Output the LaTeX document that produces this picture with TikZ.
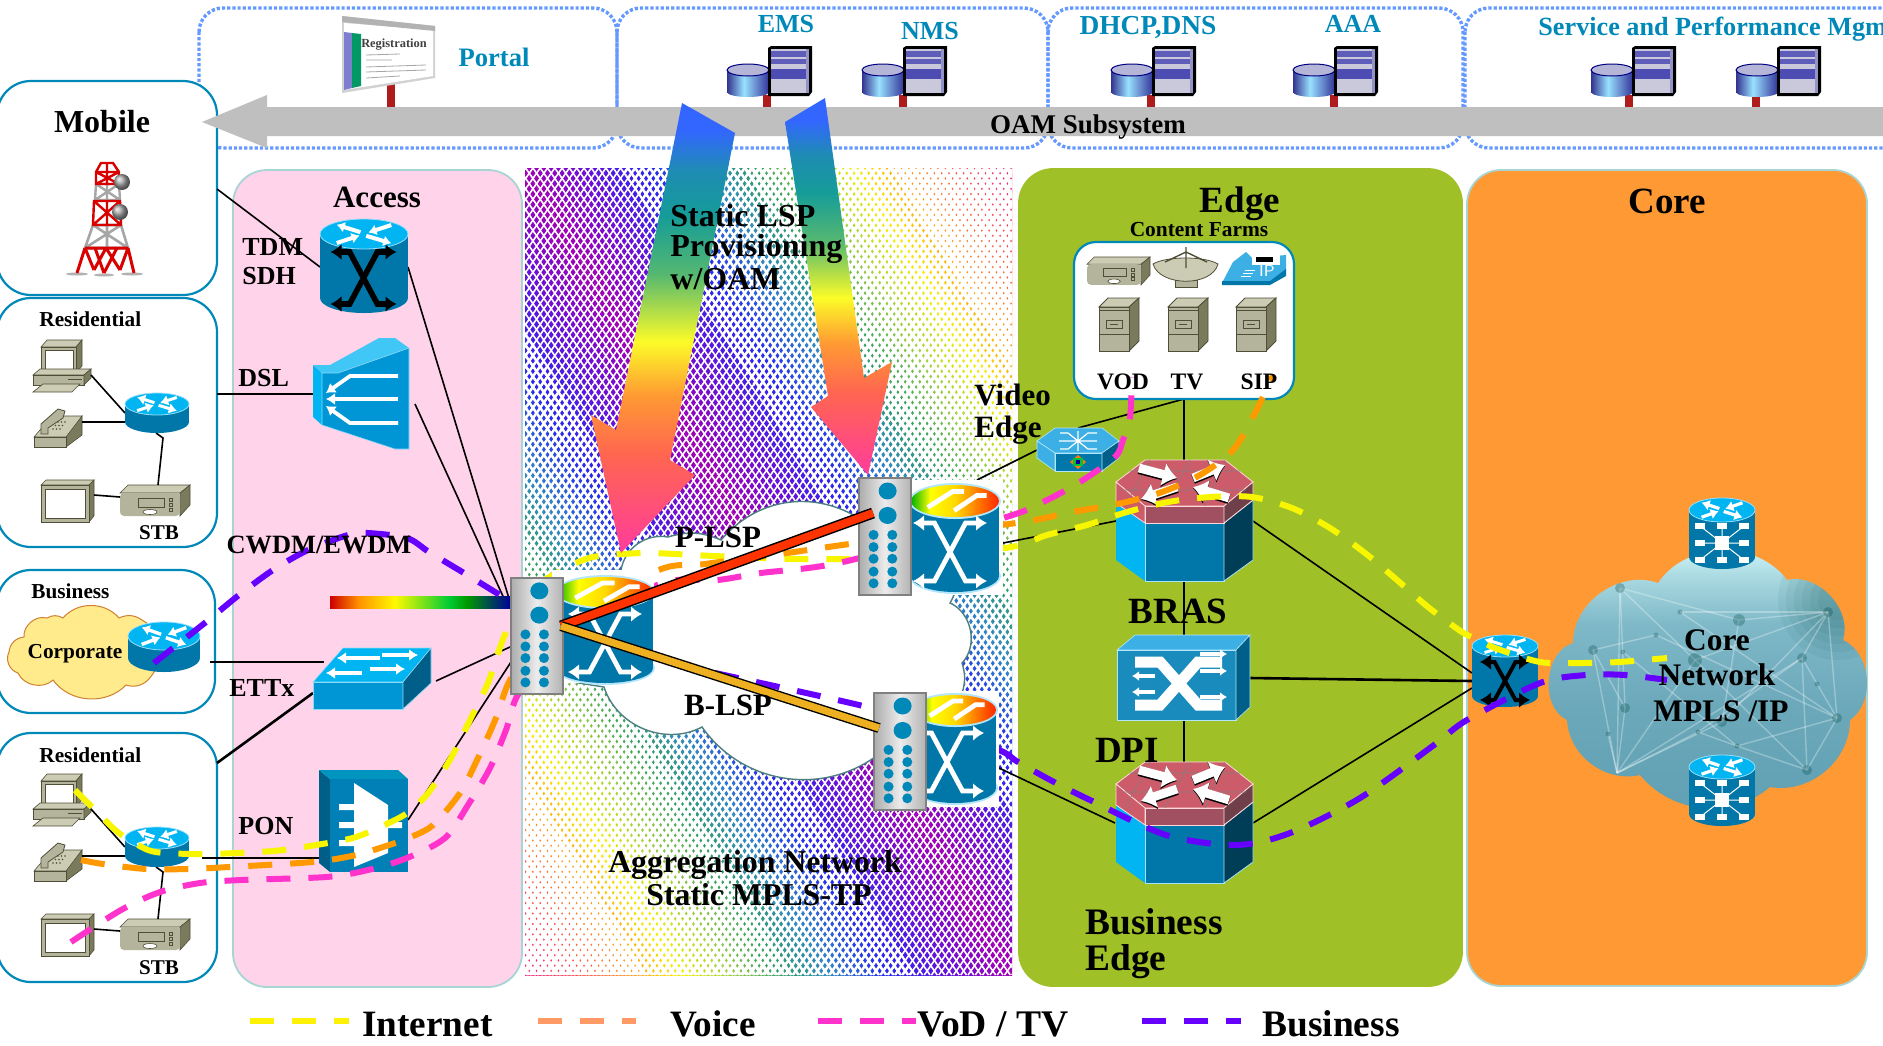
\documentclass[tikz,border=0pt]{standalone}
\usepackage{fontspec}
\setmainfont{Liberation Serif}
\usetikzlibrary{arrows.meta,calc}
\definecolor{cline}{HTML}{0088B8}
\definecolor{ctop}{HTML}{00B5F2}
\definecolor{cbody}{HTML}{0077A8}
\definecolor{cside}{HTML}{005F88}
\definecolor{cfront}{HTML}{0096D6}
\definecolor{clt}{HTML}{3CB0E5}
\definecolor{caccess}{HTML}{FFD3E9}
\definecolor{cedge}{HTML}{A0C028}
\definecolor{ccore}{HTML}{FF9933}
\definecolor{cpanel}{HTML}{A8D4D4}
\definecolor{cdot}{HTML}{6699FF}
\definecolor{cgrey}{HTML}{BFBFBF}
\definecolor{cpost}{HTML}{B01C1C}
\definecolor{kyel}{HTML}{F8F500}
\definecolor{kora}{HTML}{FF9900}
\definecolor{kmag}{HTML}{FF33CC}
\definecolor{kpur}{HTML}{6600FF}
\definecolor{kvoice}{HTML}{FF9966}
\definecolor{lspred}{HTML}{FF3300}
\definecolor{lspyel}{HTML}{EEB020}
\definecolor{btop}{HTML}{CCCCB4}
\definecolor{bfront}{HTML}{B4B49C}
\definecolor{bside}{HTML}{7A7A5C}
\definecolor{bstroke}{HTML}{4F4F38}
\definecolor{fwtop}{HTML}{CC5C6A}
\definecolor{fwfront}{HTML}{A05060}
\definecolor{fwside}{HTML}{70404A}
\definecolor{s0}{HTML}{A400B4}
\definecolor{s1}{HTML}{6A10D8}
\definecolor{s2}{HTML}{2828F0}
\definecolor{s3}{HTML}{3088C8}
\definecolor{s4}{HTML}{30A060}
\definecolor{s5}{HTML}{A0D040}
\definecolor{s6}{HTML}{F8F000}
\definecolor{s7}{HTML}{FF9020}
\definecolor{s8}{HTML}{FF4848}
\definecolor{s9}{HTML}{F0208C}
\definecolor{a0}{HTML}{FF3C9C}
\definecolor{a1}{HTML}{FF6650}
\definecolor{a2}{HTML}{FF9A33}
\definecolor{a3}{HTML}{FCFC28}
\definecolor{a4}{HTML}{55B870}
\definecolor{a5}{HTML}{159C98}
\definecolor{a6}{HTML}{1E8CB4}
\definecolor{a7}{HTML}{3366FF}
\definecolor{g0}{HTML}{5FA0B2}
\definecolor{g1}{HTML}{6BA8BA}
\definecolor{g2}{HTML}{7FB9C8}
\definecolor{g3}{HTML}{A8D8E0}
\definecolor{g4}{HTML}{C4ECF0}
\pgfdeclareverticalshading{arrowgrad}{100bp}{color(0bp)=(a0); color(25bp)=(a0);
 color(36bp)=(a1); color(42.5bp)=(a2); color(48.5bp)=(a3); color(56bp)=(a4);
 color(62.5bp)=(a5); color(67.5bp)=(a6); color(72bp)=(a7); color(100bp)=(a7)}
\pgfdeclarehorizontalshading{rbar}{100bp}{color(0bp)=(red!80!black); color(25bp)=(red!80!black); color(33bp)=(orange!85!yellow); color(43bp)=(yellow!95!orange); color(58bp)=(green!60!teal); color(63bp)=(green!60!black); color(75bp)=(blue!60!black); color(100bp)=(blue!60!black)}
\pgfdeclarehorizontalshading{rtop}{100bp}{color(0bp)=(green!70!black); color(25bp)=(green!70!black); color(36bp)=(yellow); color(50bp)=(yellow!70!orange); color(62bp)=(orange); color(75bp)=(red!70!orange); color(100bp)=(red!70!orange)}
\pgfdeclarehorizontalshading{chassis}{100bp}{color(0bp)=(gray!65); color(25bp)=(gray!65); color(50bp)=(gray!15); color(75bp)=(gray!60); color(100bp)=(gray!60)}
\pgfdeclarehorizontalshading{cylg}{100bp}{color(0bp)=(blue!50!black); color(25bp)=(blue!45!black!80); color(45bp)=(blue!30!cyan!40!white); color(75bp)=(blue!50!black!80); color(100bp)=(blue!50!black)}
\pgfdeclareverticalshading{coreg}{100bp}{color(0bp)=(g0); color(25bp)=(g0); color(45bp)=(g1); color(60bp)=(g2); color(68bp)=(g3); color(72bp)=(g4); color(100bp)=(g4)}
\tikzset{
 lab/.style={inner sep=0pt,font=\bfseries\fontsize{#1}{#1}\selectfont},
 oam/.style={lab=#1,text=cline},
 zone/.style={rounded corners=17pt,draw=cpanel,line width=.9pt},
 site/.style={rounded corners=17pt,draw=cline,line width=1.1pt,fill=white},
 group/.style={rounded corners=12pt,draw=cdot,line width=1.7pt,dash pattern=on 1.6pt off 1pt},
 wire/.style={black,line width=.8pt},
 hwire/.style={black,line width=1.3pt},
 flow/.style={line width=3pt,dash pattern=on 12pt off 9pt},
 harrow/.style={white,line width=#1,-{Latex[length=4pt,width=5.5pt]}}
}
% ---- icons
\newcommand{\rbody}[6]{% cx cy rx ry h bodycolor
 \fill[#6] (#1-#3,#2) rectangle (#1+#3,#2+#5);
 \fill[#6] (#1,#2+#5) ellipse[x radius=#3,y radius=#4];
 \fill[ctop,draw=cyan!40,line width=.4pt] (#1,#2) ellipse[x radius=#3,y radius=#4];}
\newcommand{\rarrows}[5]{% cx cy rx ry lw
 \begin{scope}[shift={(#1,#2)},x=#3*.5pt,y=-#4*.5pt]
 \draw[harrow=#5] (.05,.12)--(.62,.62);
 \draw[harrow=#5] (-.08,-.12)--(-.62,-.62);
 \draw[harrow=#5] (.62,-.6)--(.1,-.1);
 \draw[harrow=#5] (-.62,.6)--(-.1,.1);
 \end{scope}}
\newcommand{\xsw}[6]{% cx cy hw hh colour lw
 \begin{scope}[shift={(#1,#2)}]
 \draw[#5,line width=#6,{Latex[length=5.5pt,width=8pt]}-{Latex[length=5.5pt,width=8pt]},line join=miter] (-#3,-#4)--(-.42*#3,-#4)--(.42*#3,#4)--(#3,#4);
 \draw[#5,line width=#6,{Latex[length=5.5pt,width=8pt]}-{Latex[length=5.5pt,width=8pt]},line join=miter] (-#3,#4)--(-.42*#3,#4)--(.42*#3,-#4)--(#3,-#4);
 \end{scope}}
\newcommand{\tprouter}[5]{% cx cy rx ry h
 \fill[cyan!30] (#1,#2+#5) ellipse[x radius=#3+2,y radius=#4+2];
 \fill[cbody] (#1-#3,#2) rectangle (#1+#3,#2+#5);
 \fill[cbody] (#1,#2+#5) ellipse[x radius=#3,y radius=#4];
 \fill[cyan!30] (#1,#2) ellipse[x radius=#3+2,y radius=#4+2];
 \shade[shading=rtop] (#1,#2) ellipse[x radius=#3,y radius=#4];
 \draw[white,line width=2.4pt] (#1-.62*#3,#2+.4*#4)--(#1-.05*#3,#2-.6*#4)--(#1+.2*#3,#2-.6*#4);
 \draw[white,line width=2.4pt] (#1-.02*#3,#2+.6*#4)--(#1+.5*#3,#2-.35*#4)--(#1+.72*#3,#2-.35*#4);}
\newcommand{\chbox}[4]{% x y w h
 \shade[shading=chassis] (#1,#2) rectangle (#1+#3,#2+#4);
 \draw[gray,line width=1pt] (#1,#2) rectangle (#1+#3,#2+#4);
 \foreach \fy in {.111,.32}{\fill[cline] (#1+.55*#3,#2+\fy*#4) ellipse[x radius=9,y radius=8.5];}
 \foreach \fy in {.486,.59,.69,.8,.9}{\fill[cline] (#1+.28*#3,#2+\fy*#4) circle[radius=5];\fill[cline] (#1+.64*#3,#2+\fy*#4) circle[radius=5];}}
\newcommand{\srvicon}[2]{% x of cylinder, post x
 \fill[cpost] (#2-4,95) rectangle (#2+4,108);
 \shade[shading=cylg] (#1,70) rectangle (#1+42,92);
 \shade[shading=cylg] (#1+21,92) ellipse[x radius=21,y radius=5];
 \fill[blue!30!gray!45!white,draw=blue!50!black,line width=.5pt] (#1+21,70) ellipse[x radius=21,y radius=6];
 \fill[black] (#1+41,48) -- (#1+44,46) -- (#1+85,46) -- (#1+85,92) -- (#1+82,96) -- (#1+41,96) -- cycle;
 \fill[blue!20!gray!35!white] (#1+44,49) rectangle (#1+79,93);
 \fill[blue!40!gray!90!white] (#1+44,51) rectangle (#1+79,57);
 \fill[blue!40!gray!90!white] (#1+44,59) rectangle (#1+79,64);
 \fill[blue!40!gray] (#1+44,69) rectangle (#1+79,79);
 \fill[blue!30!gray!65!white] (#1+79,49) rectangle (#1+82,93);}
\newcommand{\stbicon}[3]{% x y scale
 \begin{scope}[shift={(#1,#2)},scale=#3]
 \fill[btop,draw=bstroke,line width=.3pt] (0,8)--(8,0)--(70,0)--(60,8)--cycle;
 \fill[bside,draw=bstroke,line width=.3pt] (60,8)--(70,0)--(70,20)--(60,31)--cycle;
 \fill[bfront,rounded corners=2pt] (0,8)--(60,8)--(60,31)--(0,31)--cycle;
 \draw[bstroke,line width=.4pt,fill=bfront] (18,13) rectangle (44,22);
 \draw[bstroke,line width=.3pt,fill=white] (30,27) ellipse[x radius=7,y radius=2.5];
 \foreach \sy in {13,18,23}{\draw[bstroke,line width=.3pt,fill=bfront] (49,\sy) rectangle (52,\sy+3);}
 \end{scope}}
\newcommand{\fileicon}[2]{% x y
 \begin{scope}[shift={(#1,#2)}]
 \fill[btop,draw=bstroke,line width=.4pt] (0,9)--(9,0)--(40,0)--(30,9)--cycle;
 \fill[bside,draw=bstroke,line width=.4pt] (30,9)--(40,0)--(40,43)--(30,53)--cycle;
 \fill[bfront,draw=bstroke,line width=.4pt] (0,9) rectangle (30,53);
 \draw[bstroke,line width=.3pt] (0,12)--(30,12) (0,36)--(30,36);
 \draw[bstroke,line width=.4pt] (7,22) rectangle (23,30) (11,26)--(19,26);
 \end{scope}}
\newcommand{\edgedev}[1]{% y shift
 \begin{scope}[shift={(0,#1)}]
 \fill[ctop] (1116,503)--(1145,523)--(1145,581)--(1116,560)--cycle;
 \fill[cbody,draw=cyan!35,line width=.4pt] (1145,523) rectangle (1224,581);
 \fill[black!20!cside!80!black,draw=cyan!35,line width=.4pt] (1224,523)--(1253,500)--(1253,560)--(1224,581)--cycle;
 \fill[fwtop,draw=pink!60,line width=.4pt] (1116,482)--(1145,460)--(1225,460)--(1253,482)--(1224,506)--(1145,506)--cycle;
 \fill[fwtop,draw=pink!60,line width=.4pt] (1116,482)--(1145,506)--(1145,523)--(1116,503)--cycle;
 \fill[fwfront,draw=pink!60,line width=.4pt] (1145,506) rectangle (1224,523);
 \fill[fwside,draw=pink!60,line width=.4pt] (1224,506)--(1253,482)--(1253,500)--(1224,523)--cycle;
 \draw[gray!90!fwtop,line width=.3pt] (1130,471)--(1240,471) (1122,490)--(1246,490) (1150,460)--(1125,506) (1190,460)--(1165,506) (1225,460)--(1205,506);
 \begin{scope}[shift={(1185,483)}]
 \foreach \aa/\ab/\ba/\bb in {-46/-15/-8/-5,-8/4/-44/16,8/-5/40/-18,44/15/8/4}{
  \draw[black,line width=5pt,-{Latex[length=7pt,width=13pt]}] (\aa,\ab+1)--(\ba,\bb+1);
  \draw[white,line width=4.4pt,-{Latex[length=7pt,width=12pt]}] (\aa,\ab)--(\ba,\bb);}
 \end{scope}
 \end{scope}}
\newcommand{\resisite}[1]{% y shift: the four terminals of a home
 \begin{scope}[shift={(0,#1)}]
 \fill[btop,draw=bstroke,line width=.3pt] (41,347)--(47,340)--(82,340)--(76,347)--cycle;
 \fill[bside,draw=bstroke,line width=.3pt] (76,347)--(82,340)--(82,366)--(76,373)--cycle;
 \fill[bfront,draw=bstroke,line width=.4pt] (41,347) rectangle (76,373);
 \fill[white,draw=bstroke,line width=.3pt] (45,350) rectangle (73,369);
 \fill[btop,draw=bstroke,line width=.3pt] (33,375)--(40,369)--(91,369)--(84,375)--cycle;
 \fill[bfront,draw=bstroke,line width=.4pt] (33,375) rectangle (84,385);
 \fill[bside,draw=bstroke,line width=.3pt] (84,375)--(91,369)--(91,378)--(84,385)--cycle;
 \draw[bstroke,line width=.5pt] (68,379)--(82,379);
 \fill[btop,draw=bstroke,line width=.3pt] (33,392)--(43,384)--(80,384)--(72,392)--cycle;
 \fill[bside,draw=bstroke,line width=.3pt] (66,435)--(82,416)--(82,435)--(66,447)--cycle;
 \fill[btop,draw=bstroke,line width=.3pt] (34,437)--(52,416)--(82,416)--(66,437)--cycle;
 \fill[bfront,draw=bstroke,line width=.4pt] (34,437) rectangle (66,447);
 \fill[bfront,draw=bstroke,line width=.4pt] (41,434)--(41,424)--(58,409)--(65,411)--(63,418)--(48,428)--(48,434)--cycle;
 \foreach \kx in {0,1,2}{\foreach \ky in {0,1,2}{\fill[bstroke] (58+\kx*3.5-\ky*2.5,422+\ky*3.5) circle[radius=.8];}}
 \fill[btop,draw=bstroke,line width=.3pt] (41,485)--(46,480)--(94,480)--(89,485)--cycle;
 \fill[bside,draw=bstroke,line width=.3pt] (89,485)--(94,480)--(94,516)--(89,522)--cycle;
 \fill[bfront,draw=bstroke,line width=.4pt] (41,485) rectangle (89,522);
 \fill[white,draw=bstroke,line width=.3pt] (45,489) rectangle (85,518);
 \stbicon{120}{485}{1}
 \end{scope}}
\newcommand{\coreicon}[2]{% cx cy
 \begin{scope}[shift={(#1,#2)}]
 \draw[white,line width=.5pt] (-22,-17)--(22,17) (22,-17)--(-22,17) (0,-17)--(0,17) (-22,0)--(22,0);
 \foreach \ix/\iy in {-22/-17,0/-17,22/-17,-22/0,22/0,-22/17,0/17,22/17}{\fill[white] (\ix-5,\iy-3) rectangle (\ix+5,\iy+3);}
 \fill[white] (-7,-7) rectangle (7,7);
 \end{scope}}
\newcommand{\corepath}{(1658,583) to[bend left=55] (1787,580) to[bend left=60] (1843,640) to[bend left=60] (1850,720) to[bend left=50] (1770,787) to[bend left=45] (1640,775) to[bend left=50] (1567,720) to[bend left=70] (1573,643) to[bend left=55] cycle}
% halftone lattice: white lines over the rainbow, wider where the dots shrink
\newcommand{\lattice}[1]{%
 \foreach \k in {-90,...,145}{\draw[white,line width=#1] ({\k*7.3},168)--({\k*7.3+565},975);}
 \foreach \k in {70,...,220}{\draw[white,line width=#1] ({\k*7.3},168)--({\k*7.3-565},975);}}
\newcommand{\farfrom}[1]{% clip to |u-v|>#1 on the aggregation rectangle
 \clip ({525+487*#1},168)--(1012,168)--(1012,{168+807*(1-#1)})--cycle
       (525,{168+807*#1})--(525,975)--({525+487*(1-#1)},975)--cycle;}
\begin{document}
\begin{tikzpicture}[x=.5pt,y=-.5pt]
\useasboundingbox (0,0) rectangle (1883,1045);
\clip (0,0) rectangle (1883,1045);
\fill[white] (0,0) rectangle (1883,1045);
% ---------- zones
\draw[zone,fill=caccess] (233,170) rectangle (522,987);
\draw[zone,fill=cedge,draw=cedge] (1019,169) rectangle (1462,986);
\draw[zone,fill=ccore] (1467,170) rectangle (1867,986);
% ---------- halftone background of the aggregation network
\begin{scope}
\clip (525,168) rectangle (1012,975);
\foreach \ca/\cb/\ta/\tb in {s0/s1/0/.12,s1/s2/.12/.25,s2/s3/.25/.37,s3/s4/.37/.48,s4/s5/.48/.58,s5/s6/.58/.68,s6/s7/.68/.79,s7/s8/.79/.89,s8/s9/.89/1.01}{
 \foreach \k in {0,...,5}{
  \pgfmathsetmacro\tone{\ta+(\tb-\ta)*\k/6}
  \pgfmathsetmacro\ttwo{\ta+(\tb-\ta)*(\k+1)/6+.003}
  \pgfmathsetmacro\pc{100-\k*16.6-8}
  \colorlet{bandc}{\ca!\pc!\cb}
  \fill[bandc] ({525+487*(\tone-.1)},{168-.1*807}) -- ({525+487*(\ttwo-.1)},{168-.1*807}) -- ({525+487*(\ttwo+1.1)},{168+1.1*807}) -- ({525+487*(\tone+1.1)},{168+1.1*807}) -- cycle;
  \fill[bandc] ({525+487*(-\tone-.1)},{168-.1*807}) -- ({525+487*(-\ttwo-.1)},{168-.1*807}) -- ({525+487*(-\ttwo+1.1)},{168+1.1*807}) -- ({525+487*(-\tone+1.1)},{168+1.1*807}) -- cycle;
 }}
\lattice{.8pt}
\begin{scope}\farfrom{.2}\lattice{1.25pt}\end{scope}
\begin{scope}\farfrom{.45}\lattice{1.7pt}\end{scope}
\begin{scope}\farfrom{.75}\lattice{2.1pt}\end{scope}
\end{scope}
% ---------- aggregation cloud
\coordinate (ac1) at (621,570);
\fill[white,draw=gray!60!teal,line width=.7pt] (ac1) to[bend left=45] (668,537) to[bend left=20] (721,540) to[bend left=40] (857,517) to[bend left=10] (955,590) to[bend left=10] (950,603) to[bend left=55] (962,663) to[bend left=15] (963,690) to[bend left=20] (875,757) to[bend left=45] (702,727) to[bend left=50] (604,687) -- (560,680) -- (560,575) -- cycle;
% ---------- OAM groups
\draw[group] (199,8) rectangle (617,148);
\draw[group] (617,8) rectangle (1048,148);
\draw[group] (1048,8) rectangle (1463,148);
\draw[group] (1465,8) rectangle (1930,148);
% ---------- user sites
\draw[site] (-3,81) rectangle (217,295);
\draw[site] (-3,298) rectangle (217,547);
\draw[site] (-3,570) rectangle (215,713);
\draw[site] (-3,733) rectangle (217,982);
% ---------- posts + OAM bus
\srvicon{727}{767}
\srvicon{862}{903}
\srvicon{1111}{1151}
\srvicon{1293}{1334}
\srvicon{1591}{1629}
\srvicon{1736}{1756}
\fill[cpost] (387,84) rectangle (395,107);
\fill[cgrey] (202,122)--(267,95)--(267,107)--(1883,107)--(1883,136)--(267,136)--(267,148)--cycle;
% portal sign
\fill[gray!35] (342,16)--(435,26)--(435,78)--(342,93)--cycle;
\fill[white] (344,23)--(433,30)--(433,76)--(344,90)--cycle;
\fill[blue!45!gray!70!white] (344,32)--(352,33)--(352,88)--(344,90)--cycle;
\fill[teal!80!green] (352,33)--(361,34)--(361,86)--(352,88)--cycle;
\fill[gray!60] (342,16)--(435,26)--(435,31)--(342,22)--cycle;
\node[lab=6.2,text=black!75] (reg) at (394,45) {Registration};
\draw[gray!70,line width=.4pt] (366,55)--(400,54) (366,60)--(392,60) (366,67)--(426,65) (366,72)--(426,70) (366,78)--(400,76);
% tower
\begin{scope}
\fill[gray!60] (77,274) ellipse[x radius=11,y radius=1.5] (104,275) ellipse[x radius=10,y radius=1.5] (132,274) ellipse[x radius=11,y radius=1.5];
\draw[gray!70,line width=1.2pt] (96,184)--(95,200)--(120,200)--(119,184)--cycle (96,184)--(120,200) (119,184)--(95,200) (107,184)--(107,200);
\draw[gray!70,line width=1.3pt] (93,225)--(85,248)--(128,248)--(121,225)--cycle (93,225)--(128,248) (121,225)--(85,248) (107,225)--(107,248);
\draw[red!85!black,line width=1.2pt] (96,172)--(101,163)--(113,163)--(119,172)--(119,184)--(96,184)--cycle (96,172)--(119,184) (119,172)--(96,184) (107,163)--(107,184) (96,172)--(119,172);
\draw[red!85!black,line width=1.2pt] (94,201)--(120,201)--(121,225)--(93,225)--cycle (94,201)--(121,225) (120,201)--(93,225) (107,201)--(107,225);
\draw[red!85!black,line width=1.5pt] (85,248)--(77,273) (128,248)--(134,273) (85,248)--(128,248) (85,248)--(94,270) (95,248)--(104,273) (117,248)--(104,273) (128,248)--(120,270) (106,248)--(94,270) (106,248)--(120,270);
\shade[ball color=gray!70] (122,182) circle[radius=8];
\shade[ball color=gray!70] (120,212) circle[radius=8];
\end{scope}
% ---------- residential terminals
\resisite{0}
\resisite{434}
% corporate cloud
\fill[orange!35!yellow!45!white,draw=brown!75!orange,line width=.5pt] (47,618) to[bend left=30] (63,618) to[bend left=50] (119,618) to[bend left=30] (142,620) to[bend left=30] (160,650) to[bend left=20] (148,680) to[bend left=30] (126,685) to[bend left=50] (53,680) to[bend left=55] (18,673) to[bend left=50] (9,652) to[bend left=40] (24,637) to[bend left=55] cycle;
% ---------- named connection points
\coordinate (mobileP) at (217,189); \coordinate (tdmL) at (320,267); \coordinate (tdmR) at (408,267);
\coordinate (chA) at (511,605); \coordinate (chB) at (507,605); \coordinate (dslR) at (415,404);
\coordinate (res1P) at (217,394); \coordinate (dslL) at (313,394);
\coordinate (bizP) at (210,662); \coordinate (ettUp) at (324,662);
\coordinate (res2P) at (217,763); \coordinate (ettL) at (313,693);
\coordinate (ettR) at (436,681); \coordinate (chC) at (510,647);
\coordinate (ponR) at (408,820); \coordinate (chD) at (511,662);
\coordinate (resR) at (202,858); \coordinate (ponL) at (329,858);
\coordinate (tpN) at (977,480); \coordinate (veL) at (1037,450);
\coordinate (veT) at (1078,428); \coordinate (cfB) at (1184,399); \coordinate (brasT) at (1184,460);
\coordinate (tpE) at (1003,543); \coordinate (brasL) at (1116,521); \coordinate (brasR) at (1253,521);
\coordinate (swA) at (1472,673); \coordinate (brasB) at (1184,581); \coordinate (dpiT) at (1184,635);
\coordinate (dpiB) at (1184,720); \coordinate (beT) at (1184,762); \coordinate (dpiR) at (1250,678);
\coordinate (swB) at (1472,681); \coordinate (beR) at (1253,823); \coordinate (swC) at (1472,688);
\coordinate (tpS) at (999,768); \coordinate (beL) at (1115,823);
\draw[wire] (mobileP)--(tdmL);
\draw[wire] (tdmR)--(chA);
\draw[wire] (dslR)--(chB);
\draw[hwire] (res1P)--(dslL);
\draw[hwire] (bizP)--(ettUp);
\draw[hwire] (res2P)--(ettL);
\draw[wire] (ettR)--(chC);
\draw[wire] (ponR)--(chD);
\draw[hwire] (resR)--(ponL);
\draw[wire] (tpN)--(veL);
\draw[wire] (veT)--(cfB);
\draw[wire] (cfB)--(brasT);
\draw[wire] (tpE)--(brasL);
\draw[wire] (brasR)--(swA);
\draw[wire] (brasB)--(dpiT);
\draw[wire] (dpiB)--(beT);
\draw[hwire] (dpiR)--(swB);
\draw[wire] (beR)--(swC);
\draw[wire] (tpS)--(beL);
\foreach \dy in {0,434}{
 \begin{scope}[shift={(0,\dy)}]
 \coordinate (pcE) at (91,375); \coordinate (rtW) at (125,413); \coordinate (phE) at (82,422); \coordinate (rtW2) at (125,422);
 \coordinate (rtS) at (156,433); \coordinate (rtS2) at (163,438); \coordinate (stbT) at (158,485); \coordinate (tvE) at (94,495); \coordinate (stbW) at (120,497);
 \draw[wire] (pcE)--(rtW);
 \draw[wire] (phE)--(rtW2);
 \draw[wire] (rtS)--(rtS2)--(stbT);
 \draw[wire] (tvE)--(stbW);
 \end{scope}}
% ---------- Access devices
\rbody{364}{234}{44}{15}{64}{cbody}
\rarrows{364}{234}{44}{15}{2pt}
\xsw{363.5}{278}{33}{26}{black}{2.8pt}
% DSLAM
\fill[ctop] (313,365)--(322,373)--(322,425)--(313,417)--cycle;
\fill[ctop!75!white] (313,365)--(330,365)--(379,338)--(395,338)--(409,348)--(338,373)--(322,373)--cycle;
\fill[cfront,draw=cyan!45,line width=.3pt] (322,373)--(338,373)--(409,348)--(409,449)--(395,449)--(322,425)--cycle;
\draw[white,line width=1.9pt,-{Latex[length=4.5pt,width=6pt]}] (398,376)--(350,376)--(326,393);
\draw[white,line width=1.9pt,-{Latex[length=4.5pt,width=6pt]}] (398,399)--(326,399);
\draw[white,line width=1.9pt,-{Latex[length=4.5pt,width=6pt]}] (398,423)--(350,423)--(326,406);
% ETTx switch
\fill[ctop,draw=cyan!45,line width=.3pt] (313,682)--(343,648)--(431,648)--(403,682)--cycle;
\fill[cfront,draw=cyan!45,line width=.3pt] (313,682) rectangle (403,709);
\fill[cside,draw=cyan!45,line width=.3pt] (403,682)--(431,648)--(431,683)--(403,709)--cycle;
\draw[white,line width=2.4pt,-{Latex[length=4.5pt,width=6pt]}] (380,658)--(337,658);
\draw[white,line width=2.4pt,-{Latex[length=4.5pt,width=6pt]}] (382,655)--(418,655);
\draw[white,line width=2.4pt,-{Latex[length=4.5pt,width=6pt]}] (362,673)--(326,673);
\draw[white,line width=2.4pt,-{Latex[length=4.5pt,width=6pt]}] (370,669)--(405,669);
% PON
\fill[cside] (319,770)--(330,779)--(330,872)--(319,863)--cycle;
\fill[cline!90!cyan] (319,770)--(398,770)--(408,779)--(330,779)--cycle;
\fill[cfront!85!black] (330,779) rectangle (408,872);
\fill[white] (354,783)--(388,805)--(388,853)--(354,867)--cycle;
\fill[white] (339,804) rectangle (354,810) (339,822) rectangle (354,828) (339,840) rectangle (354,846) (388,822) rectangle (402,828);
% residential / business routers
\rbody{157}{404}{32}{11}{18}{cbody}\rarrows{157}{404}{32}{11}{1.5pt}
\rbody{157}{838}{32}{11}{18}{cbody}\rarrows{157}{838}{32}{11}{1.5pt}
\rbody{164}{636}{36}{14}{22}{cbody}\rarrows{164}{636}{36}{14}{1.7pt}
% rainbow wave
\shade[shading=rbar] (330,596) rectangle (510,608);
% ---------- Edge devices
\draw[site,rounded corners=11pt] (1074,242) rectangle (1294,399);
\stbicon{1087}{257}{.9}
\fill[bfront,draw=bstroke,line width=.3pt] (1175,280) rectangle (1197,287);
\fill[btop,draw=bstroke,line width=.4pt] (1153,264) .. controls (1160,287) and (1212,287) .. (1218,264) .. controls (1205,256) and (1166,256) .. (1153,264) -- cycle;
\draw[bstroke,line width=.7pt] (1186,247)--(1186,268) (1165,262)--(1186,252)--(1207,262);
\fill[clt] (1222,283)--(1233,262)--(1246,252)--(1252,258)--(1286,255)--(1286,270)--(1270,283)--cycle;
\fill[cbody] (1222,281)--(1270,281)--(1286,269)--(1286,276)--(1270,285)--(1222,285)--cycle;
\fill[white] (1252,255) rectangle (1280,265);
\fill[black] (1256,257) rectangle (1273,262);
\draw[white,line width=.4pt] (1245,270)--(1255,270) (1243,273)--(1253,273) (1241,276)--(1251,276);
\node[inner sep=0pt,text=white,font=\sffamily\fontsize{8}{8}\selectfont] (iptext) at (1267,271) {IP};
\fileicon{1099}{298}\fileicon{1168}{298}\fileicon{1236}{298}
% video edge
\fill[clt,draw=cyan!30,line width=.3pt] (1037,441)--(1055,428)--(1102,428)--(1119,441)--(1102,453)--(1055,453)--cycle;
\fill[clt,draw=cyan!30,line width=.3pt] (1037,441)--(1055,453)--(1055,471)--(1037,458)--cycle;
\fill[cbody,draw=cyan!30,line width=.3pt] (1055,453) rectangle (1102,471);
\fill[cside,draw=cyan!30,line width=.3pt] (1119,441)--(1102,453)--(1102,471)--(1119,458)--cycle;
\draw[white,line width=.6pt] (1078,431)--(1078,451) (1059,441)--(1097,441) (1060,433)--(1068,433)--(1088,449)--(1097,449) (1097,433)--(1088,433)--(1068,449)--(1060,449);
\fill[orange] (1078,455)--(1086,462)--(1078,469)--(1070,462)--cycle;
\fill[green!50!teal] (1073,458) rectangle (1083,466);
\fill[blue!60!black] (1076,460) rectangle (1080,464);
% BRAS, business edge
\edgedev{0}
\edgedev{302}
% DPI
\fill[clt,draw=cyan!30,line width=.3pt] (1117,650)--(1135,635)--(1250,635)--(1236,650)--cycle;
\fill[cfront!85!black!90!white,draw=cyan!30,line width=.3pt] (1117,650) rectangle (1236,720);
\fill[cside,draw=cyan!30,line width=.3pt] (1236,650)--(1250,635)--(1250,707)--(1236,720)--cycle;
\draw[white,line width=5.5pt] (1135,662)--(1160,662)--(1198,705)--(1222,705);
\draw[white,line width=5.5pt] (1135,705)--(1160,705)--(1198,662)--(1222,662);
\draw[white,line width=1.6pt,-{Latex[length=3.5pt,width=5pt]}] (1200,654)--(1227,654);
\draw[white,line width=1.6pt,-{Latex[length=3.5pt,width=5pt]}] (1200,671)--(1227,671);
\draw[white,line width=1.6pt,-{Latex[length=3.5pt,width=5pt]}] (1200,697)--(1227,697);
\draw[white,line width=1.6pt,-{Latex[length=3.5pt,width=5pt]}] (1155,676)--(1132,676);
\draw[white,line width=1.6pt,-{Latex[length=3.5pt,width=5pt]}] (1155,692)--(1132,692);
% ---------- Core cloud
\shade[shading=coreg] \corepath;
\begin{scope}
\clip \corepath;
\foreach \rr in {60,52,44,36,28,20}{\fill[teal!55!black,opacity=.06] (1838,600) circle[radius=\rr];}
\foreach \ax/\ay/\bx/\by in {1620/588/1617/773,1620/588/1625/708,1620/588/1739/620,1620/588/1695/660,1680/612/1828/612,1739/620/1828/612,1828/612/1695/660,1828/612/1802/658,1828/612/1837/718,1828/612/1722/722,1802/658/1837/718,1802/658/1617/773,1802/658/1698/732,1837/718/1807/770,1837/718/1737/746,1807/770/1737/746,1807/770/1695/660,1807/770/1802/658,1737/746/1698/732,1698/732/1617/773,1722/722/1617/773,1625/708/1617/773,1625/708/1593/650,1608/734/1617/773,1593/650/1617/773,1593/650/1656/635,1656/635/1837/718,1623/652/1737/746,1739/620/1722/722,1695/660/1617/773,1680/612/1837/718}{
 \draw[white,opacity=.3,line width=.7pt] (\ax,\ay)--(\bx,\by);}
\foreach \ax/\ay/\rr in {1620/588/5,1680/612/2.5,1739/620/6,1828/612/5,1802/658/5,1817/684/2.5,1837/718/5,1807/770/5,1737/746/2.5,1698/732/2.5,1722/722/5,1625/708/5,1608/734/2.5,1593/650/5,1623/652/2.5,1656/635/2.5,1695/660/7}{
 \fill[teal!60!black,opacity=.3] (\ax,\ay) circle[radius=\rr];}
\end{scope}
\rbody{1722}{510}{33}{12}{47}{cbody}\rarrows{1722}{510}{33}{12}{1.6pt}\coreicon{1722}{543}
\rbody{1722}{767}{33}{12}{47}{cbody}\rarrows{1722}{767}{33}{12}{1.6pt}\coreicon{1722}{800}
\rbody{1505}{646}{33}{11}{50}{cbody}\rarrows{1505}{646}{33}{11}{1.5pt}
\xsw{1505}{681}{25}{19}{black}{2pt}
% ---------- service flows
\draw[flow,kyel] plot[smooth,tension=.5] coordinates {(75,790)(95,810)(113,828)(126,838)(148,850)(166,853)(207,854)(273,851)(316,845)(356,837)(395,820)(411,810)(429,792)(451,758)(470,720)(488,683)(498,653)(510,623)(530,590)(568,567)(589,558)(609,555)(650,553)(714,556)(798,559)(880,558)(1005,548)(1047,535)(1087,525)(1127,512)(1168,502)(1210,497)(1252,497)(1292,508)(1330,528)(1365,553)(1397,580)(1428,607)(1462,632)(1479,640)(1495,648)(1540,662)(1580,663)(1619,662)(1667,658)};
\draw[flow,kora] plot[smooth,tension=.5] coordinates {(81,860)(103,864)(146,869)(188,869)(229,867)(312,862)(356,855)(395,843)(411,837)(433,825)(460,793)(478,758)(496,718)(510,680)(540,640)(654,572)(705,564)(787,553)(857,543)(1016,523)(1072,512)(1122,503)(1162,492)(1200,475)(1233,450)(1255,413)(1273,375)};
\draw[flow,kmag] plot[smooth,tension=.5] coordinates {(71,942)(121,910)(160,892)(200,883)(241,880)(326,877)(368,870)(407,858)(445,838)(468,805)(490,768)(506,730)(519,693)(560,650)(657,585)(718,580)(761,573)(843,562)(1003,518)(1043,502)(1080,482)(1115,457)(1123,440)(1130,418)(1132,377)};
\draw[flow,kpur] plot[smooth,tension=.5] coordinates {(154,663)(206,622)(239,595)(273,570)(308,550)(348,535)(368,533)(407,538)(429,552)(464,573)(500,595)(512,602)};
\draw[flow,kpur] plot[smooth,tension=.5] coordinates {(715,673)(859,705)(930,725)(999,750)(1018,762)(1054,782)(1090,800)(1166,835)(1236,845)(1290,833)(1360,798)(1434,745)(1467,720)(1540,683)(1586,675)(1625,675)(1667,680)};
% ---------- aggregation routers
\fill[white] (552,570) rectangle (654,683);
\fill[white] (911,480) rectangle (1003,595);
\fill[white] (925,691) rectangle (999,807);
\tprouter{605}{592}{48}{15}{76}
\xsw{605}{643}{37}{29}{white}{2.4pt}
\tprouter{955}{501}{44}{16}{75}
\xsw{950}{552}{37}{29}{white}{2.4pt}
\tprouter{955}{710}{41}{15}{78}
\xsw{947}{762}{37}{29}{white}{2.4pt}
\chbox{511}{578}{51.5}{116}
\chbox{859}{478}{52}{117}
\chbox{874}{693}{52}{117}
% provisioning arrows
\shade[shading=arrowgrad] (682,103)--(735,133)--(670,460)--(695,475)--(621,553)--(591,415)--(616,430)--cycle;
\shade[shading=arrowgrad] (785,122)--(825,98)--(864,378)--(892,362)--(868,475)--(811,407)--(828,396)--cycle;
% LSP bars
\coordinate (lspO) at (561,626); \coordinate (lspP) at (873,513); \coordinate (lspB) at (879,728);
\draw[black,line width=5.5pt] (lspO)--(lspP);
\draw[lspred,line width=4pt] (lspO)--(lspP);
\draw[black,line width=5pt] (lspO)--(lspB);
\draw[lspyel,line width=3.6pt] (lspO)--(lspB);
% ---------- legend
\coordinate (li1) at (250,1021); \coordinate (li2) at (349,1021);
\coordinate (lv1) at (538,1021); \coordinate (lv2) at (636,1021);
\coordinate (lm1) at (818,1021); \coordinate (lm2) at (916,1021);
\coordinate (lb1) at (1142,1021); \coordinate (lb2) at (1241,1021);
\draw[flow,yellow] (li1)--(li2);
\draw[flow,kvoice] (lv1)--(lv2);
\draw[flow,kmag] (lm1)--(lm2);
\draw[flow,kpur] (lb1)--(lb2);
% ---------- text
\node[lab=18.6,anchor=west] (tI) at (362,1024) {Internet};
\node[lab=18.6,anchor=west] (tV) at (670,1024) {Voice};
\node[lab=18.8,anchor=west] (tD) at (917,1024) {VoD / TV};
\node[lab=18.7,anchor=west] (tB) at (1262,1024) {Business};
\node[oam=13.3] (tPortal) at (494,57) {Portal};
\node[oam=13] (tEMS) at (786,24) {EMS};
\node[oam=13] (tNMS) at (930,31) {NMS};
\node[oam=13.7] (tDHCP) at (1148,28) {DHCP,DNS};
\node[oam=13] (tAAA) at (1353,24) {AAA};
\node[oam=13.1,anchor=west] (tSvc) at (1538,29.5) {Service and Performance Mgmt};
\node[lab=13.5] (tOAM) at (1088,127) {OAM Subsystem};
\node[lab=16] (tMobile) at (102,122) {Mobile};
\node[lab=15.5] (tAccess) at (377,197) {Access};
\node[lab=13,anchor=west] (tTDM) at (242,247) {TDM};
\node[lab=13,anchor=west] (tSDH) at (242,276) {SDH};
\node[lab=13,anchor=west] (tDSL) at (238,378) {DSL};
\node[lab=10.65,anchor=west] (tRes1) at (39,319) {Residential};
\node[lab=10.5] (tSTB1) at (159,533) {STB};
\node[lab=13.2] (tCWDM) at (319,545) {CWDM/EWDM};
\node[lab=10.65,anchor=west] (tBiz) at (31,591) {Business};
\node[lab=10.65] (tCorp) at (75,654) {Corporate};
\node[lab=13,anchor=west] (tETT) at (229,688) {ETTx};
\node[lab=13,anchor=west] (tPON) at (238,826) {PON};
\node[lab=10.65,anchor=west] (tRes2) at (39,755) {Residential};
\node[lab=10.5] (tSTB2) at (159,968) {STB};
\node[lab=16,anchor=west] (tS1) at (670,216) {Static LSP};
\node[lab=16,anchor=west] (tS2) at (670,249) {Provisioning};
\node[lab=16,anchor=west] (tS3) at (670,279) {w/OAM};
\node[lab=15.5] (tP) at (718,537) {P-LSP};
\node[lab=15.5] (tB2) at (728,705) {B-LSP};
\node[lab=15.9] (tAg1) at (755,865) {Aggregation Network};
\node[lab=15.9] (tAg2) at (759,895) {Static MPLS-TP};
\node[lab=18.5] (tEdge) at (1240,204) {Edge};
\node[lab=10.7] (tCF) at (1199,230) {Content Farms};
\node[lab=11.8] (tVOD) at (1123,382) {VOD};
\node[lab=11.8] (tTV) at (1187,382) {TV};
\node[lab=11.8] (tSIP) at (1259,382) {SIP};
\node[lab=15.5,anchor=west] (tVid) at (974,395) {Video};
\node[lab=15.5,anchor=west] (tVE) at (974,430) {Edge};
\node[lab=18.5] (tBRAS) at (1178,611) {BRAS};
\node[lab=18.5] (tDPI) at (1127,750) {DPI};
\node[lab=18.7,anchor=west] (tBE1) at (1085,922) {Business};
\node[lab=18.7,anchor=west] (tBE2) at (1085,962) {Edge};
\node[lab=18.5] (tCore) at (1667,201) {Core};
\node[lab=15.7] (tC1) at (1717,640) {Core};
\node[lab=15.7] (tC2) at (1717,675) {Network};
\node[lab=15.7] (tC3) at (1721,711) {MPLS /IP};
\end{tikzpicture}
\end{document}
